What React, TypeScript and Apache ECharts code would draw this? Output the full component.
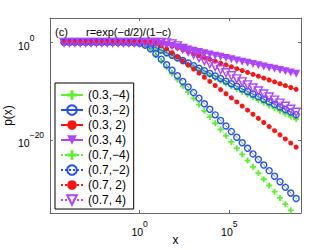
import React, { useEffect, useRef } from 'react';
import * as echarts from 'echarts';

// log10(x) sample positions
const LOG_X = [
  -4.214, -3.913, -3.612, -3.311, -3.010, -2.709, -2.408, -2.107, -1.806, -1.505,
  -1.204, -0.903, -0.602, -0.301, 0.000, 0.301, 0.602, 0.903, 1.204, 1.505,
  1.806, 2.107, 2.408, 2.709, 3.010, 3.311, 3.612, 3.913, 4.214, 4.515,
  4.816, 5.118, 5.419, 5.720, 6.021, 6.322, 6.623, 6.924, 7.225, 7.526,
  7.827, 8.128, 8.429, 8.730,
];

// log10 p(x) for each (c, d)
const P_03_M4 = [
  0, 0, 0, 0, 0, 0, 0, 0, 0, 0,
  0, -0.01, -0.01, -0.02, -0.09, -0.28, -0.65, -1.15, -1.69, -2.25,
  -2.81, -3.38, -3.94, -4.50, -5.07, -5.63, -6.19, -6.75, -7.32, -7.88,
  -8.44, -9.01, -9.57, -10.13, -10.70, -11.26, -11.82, -12.38, -12.95, -13.51,
  -14.07, -14.64, -15.20, -15.76,
];
const P_03_M2 = [
  0, 0, 0, 0, 0, 0, 0, 0, 0, 0,
  0, 0, -0.01, -0.02, -0.09, -0.26, -0.61, -1.08, -1.59, -2.12,
  -2.65, -3.18, -3.71, -4.24, -4.77, -5.30, -5.83, -6.36, -6.89, -7.42,
  -7.95, -8.48, -9.01, -9.54, -10.07, -10.60, -11.13, -11.66, -12.19, -12.72,
  -13.25, -13.77, -14.30, -14.83,
];
const P_03_P2 = [
  0, 0, 0, 0, 0, 0, 0, 0, 0, 0,
  0, 0, 0, 0, 0, 0, -0.02, -0.06, -0.19, -0.45,
  -0.79, -1.16, -1.54, -1.93, -2.31, -2.70, -3.08, -3.47, -3.85, -4.24,
  -4.62, -5.01, -5.39, -5.78, -6.16, -6.55, -6.94, -7.32, -7.71, -8.09,
  -8.48, -8.86, -9.25, -9.63,
];
const P_03_P4 = [
  0, 0, 0, 0, 0, 0, 0, 0, 0, 0,
  0, 0, 0, 0, 0, -0.01, -0.04, -0.12, -0.29, -0.50,
  -0.74, -0.99, -1.23, -1.48, -1.73, -1.97, -2.22, -2.47, -2.72, -2.96,
  -3.21, -3.46, -3.70, -3.95, -4.20, -4.44, -4.69, -4.94, -5.18, -5.43,
  -5.68, -5.92, -6.17, -6.42,
];
const P_07_M4 = [
  0, 0, 0, 0, 0, 0, 0, 0, 0, 0,
  0, 0, -0.01, -0.06, -0.21, -0.64, -1.48, -2.61, -3.84, -5.11,
  -6.38, -7.66, -8.93, -10.21, -11.49, -12.76, -14.04, -15.32, -16.59, -17.87,
  -19.15, -20.42, -21.70, -22.98, -24.25, -25.53, -26.80, -28.08, -29.36, -30.63,
  -31.91, -33.19, -34.46,
];
const P_07_M2 = [
  0, 0, 0, 0, 0, 0, 0, 0, 0, 0,
  0, 0, -0.01, -0.05, -0.19, -0.57, -1.33, -2.34, -3.44, -4.58,
  -5.72, -6.86, -8.01, -9.15, -10.30, -11.44, -12.58, -13.73, -14.87, -16.01,
  -17.16, -18.30, -19.45, -20.59, -21.73, -22.88, -24.02, -25.17, -26.31, -27.45,
  -28.60, -29.74, -30.89, -32.03,
];
const P_07_P2 = [
  0, 0, 0, 0, 0, 0, 0, 0, 0, 0,
  0, 0, 0, 0, 0, -0.02, -0.07, -0.25, -0.67, -1.34,
  -2.13, -2.95, -3.79, -4.64, -5.48, -6.32, -7.16, -8.01, -8.85, -9.69,
  -10.54, -11.38, -12.22, -13.06, -13.91, -14.75, -15.59, -16.44, -17.28, -18.12,
  -18.97, -19.81, -20.65, -21.49,
];
const P_07_P4 = [
  0, 0, 0, 0, 0, 0, 0, 0, 0, 0,
  0, 0, 0, 0, 0, 0, 0, -0.01, -0.03, -0.10,
  -0.31, -0.72, -1.27, -1.88, -2.49, -3.12, -3.74, -4.36, -4.98, -5.61,
  -6.23, -6.85, -7.48, -8.10, -8.72, -9.35, -9.97, -10.59, -11.22, -11.84,
  -12.46, -13.09, -13.71, -14.33,
];

const SERIES_NAMES = [
  '(0.3,\u22124)', '(0.3,\u22122)', '(0.3, 2)', '(0.3, 4)',
  '(0.7,\u22124)', '(0.7,\u22122)', '(0.7, 2)', '(0.7, 4)',
];
const SERIES_VALUES = [P_03_M4, P_03_M2, P_03_P2, P_03_P4, P_07_M4, P_07_M2, P_07_P2, P_07_P4];

const X_TICKS_SHOWN = [0, 5];
const Y_TICKS_SHOWN = [0, -20];

const GREEN = '#5ef02f';
const BLUE = '#2450f0';
const RED = '#fa1414';
const PURPLE = '#ad45fa';
const FRAME = '#666666';
const FONT = '"Liberation Sans", Arial, Helvetica, sans-serif';

const PLUS = 'path://M3.5,0H6.5V3.5H10V6.5H6.5V10H3.5V6.5H0V3.5H3.5Z';

type Style = { color: string; symbol: string; size: number; filled: boolean; rotate: number; dotted: boolean };
const STYLES: Style[] = [
  { color: GREEN, symbol: PLUS, size: 6, filled: true, rotate: 0, dotted: false },
  { color: BLUE, symbol: 'circle', size: 6, filled: false, rotate: 0, dotted: false },
  { color: RED, symbol: 'circle', size: 5, filled: true, rotate: 0, dotted: false },
  { color: PURPLE, symbol: 'triangle', size: 8, filled: true, rotate: 180, dotted: false },
  { color: GREEN, symbol: PLUS, size: 6, filled: true, rotate: 0, dotted: true },
  { color: BLUE, symbol: 'circle', size: 6, filled: false, rotate: 0, dotted: true },
  { color: RED, symbol: 'circle', size: 5, filled: true, rotate: 0, dotted: true },
  { color: PURPLE, symbol: 'triangle', size: 8, filled: false, rotate: 180, dotted: true },
];

const richLabel = {
  b: { fontSize: 10.5, lineHeight: 18, verticalAlign: 'bottom', color: '#000', fontFamily: FONT },
  s: { fontSize: 8.5, lineHeight: 9, verticalAlign: 'top', color: '#000', fontFamily: FONT },
};

const fmtPow = (v: number) => `{b|10}{s|${v < 0 ? '\u2212' + Math.abs(v) : v}}`;

const frameLine = { show: true, onZero: false, lineStyle: { color: FRAME, width: 1 } };
const frameTick = { show: true, inside: true, length: 3, lineStyle: { color: FRAME } };

export default function App() {
  const ref = useRef<HTMLDivElement>(null);
  useEffect(() => {
    if (!ref.current) return;
    const chart = echarts.init(ref.current, undefined, { renderer: 'svg' });
    const series = SERIES_NAMES.map((name, i) => {
      const st = STYLES[i];
      const vals = SERIES_VALUES[i];
      return {
        name,
        type: 'line',
        data: vals.map((v, j) => [LOG_X[j], v]),
        symbol: st.symbol,
        symbolSize: st.size,
        symbolRotate: st.rotate,
        showAllSymbol: true,
        clip: true,
        lineStyle: { color: st.color, width: 1, type: st.dotted ? 'dotted' : 'solid' },
        itemStyle: st.filled
          ? { color: st.color, borderWidth: 0 }
          : { color: 'rgba(255,255,255,0)', borderColor: st.color, borderWidth: 1.4 },
        emphasis: { disabled: true },
        z: 2 + i,
      };
    });
    chart.setOption({
      animation: false,
      backgroundColor: '#fff',
      grid: { left: 50, top: 18, width: 251, height: 195, containLabel: false, outerBoundsMode: 'none' },
      legend: {
        orient: 'vertical',
        left: 55,
        top: 83,
        itemWidth: 22,
        itemHeight: 12,
        itemGap: 3,
        padding: [6, 4, 3, 5],
        borderColor: '#000',
        borderWidth: 1,
        borderRadius: 0,
        backgroundColor: '#fff',
        textStyle: { fontSize: 12, color: '#000', fontFamily: FONT },
        selectedMode: false,
        data: SERIES_NAMES,
        z: 20,
      },
      xAxis: [
        {
          type: 'value',
          position: 'bottom',
          min: -5,
          max: 9,
          splitNumber: 3,
          name: 'x',
          nameLocation: 'middle',
          nameGap: 21,
          nameMoveOverlap: false,
          nameTextStyle: { fontSize: 12, color: '#000', fontFamily: FONT },
          axisLine: frameLine,
          axisTick: frameTick,
          axisLabel: {
            margin: 6,
            showMinLabel: false,
            showMaxLabel: false,
            formatter: (v: number) => (X_TICKS_SHOWN.includes(v) ? fmtPow(v) : ''),
            rich: richLabel,
          },
          splitLine: { show: false },
        },
        {
          type: 'value',
          position: 'top',
          min: -5,
          max: 9,
          splitNumber: 3,
          axisLine: frameLine,
          axisTick: frameTick,
          axisLabel: { show: false },
          splitLine: { show: false },
        },
      ],
      yAxis: [
        {
          type: 'value',
          position: 'left',
          min: -35,
          max: 5,
          splitNumber: 2,
          name: 'p(x)',
          nameLocation: 'middle',
          nameGap: 36,
          nameMoveOverlap: false,
          nameTextStyle: { fontSize: 12, color: '#000', fontFamily: FONT },
          axisLine: frameLine,
          axisTick: frameTick,
          axisLabel: {
            margin: 32,
            align: 'left',
            showMinLabel: false,
            showMaxLabel: false,
            formatter: (v: number) => (Y_TICKS_SHOWN.includes(v) ? fmtPow(v) : ''),
            rich: richLabel,
          },
          splitLine: { show: false },
        },
        {
          type: 'value',
          position: 'right',
          min: -35,
          max: 5,
          splitNumber: 2,
          axisLine: frameLine,
          axisTick: frameTick,
          axisLabel: { show: false },
          splitLine: { show: false },
        },
      ],
      graphic: [
        { type: 'text', left: 55, top: 26, z: 30, style: { text: '(c)', fontSize: 11, fill: '#000', fontFamily: FONT } },
        {
          type: 'text', left: 86, top: 26, z: 30,
          style: { text: 'r=exp(\u2212d/2)/(1\u2212c)', fontSize: 11, fill: '#000', fontFamily: FONT },
        },
      ],
      series,
    });
    return () => chart.dispose();
  }, []);
  return (
    <div
      ref={ref}
      style={{ position: 'fixed', left: 0, top: 0, width: 332, height: 250, background: '#fff' }}
    />
  );
}
